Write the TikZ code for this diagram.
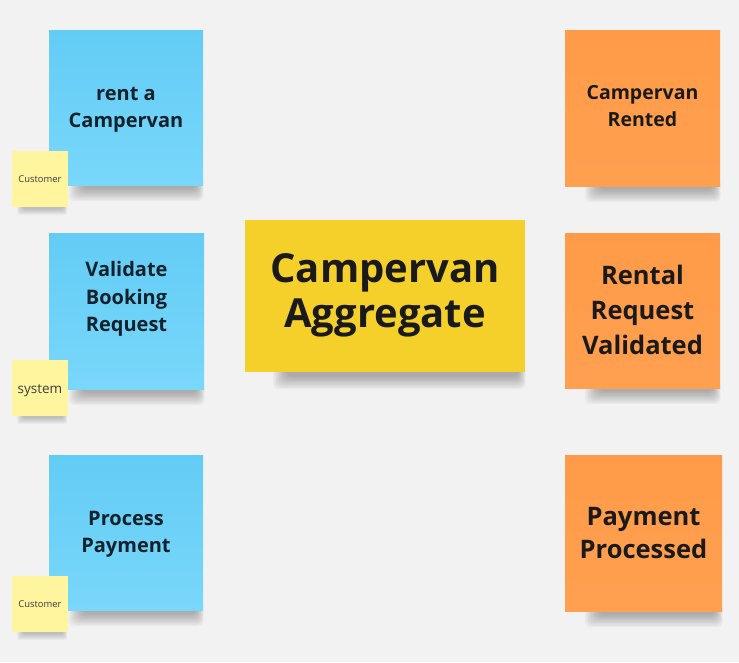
\documentclass[tikz,border=0pt]{standalone}
\usepackage{fontspec}
\setmainfont{Open Sans}
\definecolor{bgc}{HTML}{F2F2F2}
\definecolor{bluetop}{HTML}{63CCF5}
\definecolor{bluebot}{HTML}{79D7FA}
\definecolor{orgtop}{HTML}{FF9B48}
\definecolor{orgbot}{HTML}{FFA050}
\definecolor{aggc}{HTML}{F5D02B}
\definecolor{smallc}{HTML}{FFF59F}
\definecolor{txtdark}{HTML}{1A1A1A}
\definecolor{txtblue}{HTML}{12222C}
\pgfdeclarelayer{bglayer}
\pgfdeclarelayer{shadowlayer}
\pgfsetlayers{bglayer,shadowlayer,main}
\tikzset{
  notebase/.style={rectangle, inner sep=0pt, draw=none},
  bluenote/.style={notebase, top color=bluetop, bottom color=bluebot},
  orgnote/.style={notebase, top color=orgtop, bottom color=orgbot},
  aggnote/.style={notebase, fill=aggc},
  smallnote/.style={notebase, fill=smallc, minimum width=56pt, minimum height=56pt},
  shadowpiece/.style={fill=black, opacity=0.032, rounded corners=6pt},
  bluetxt/.style={align=center, text=txtblue, font=\fontsize{20}{27.3}\selectfont\bfseries},
  orgtxt/.style={align=center, text=txtdark, font=\fontsize{19.5}{27}\selectfont\bfseries},
  orgbig/.style={align=center, text=txtdark, font=\fontsize{25.5}{35}\selectfont\bfseries},
  orgbigb/.style={align=center, text=txtdark, font=\fontsize{25.5}{33}\selectfont\bfseries},
  aggtxt/.style={align=center, text=txtdark, font=\fontsize{40}{45}\selectfont\bfseries},
  smalltxt/.style={align=center, text=txtdark!85, font=\fontsize{9.4}{11}\selectfont},
  smallbig/.style={align=center, text=txtdark!85, font=\fontsize{13.5}{15}\selectfont},
}
% soft shadow under a note: #1 node name, #2 left inset, #3 depth below
\newcommand{\notesh}[3]{%
  \foreach \k in {0,...,9}{%
    \fill[shadowpiece]
      ([xshift={(#2+1.5*\k)*1pt}, yshift=8pt]#1.south west) rectangle
      ([xshift={(0.5-0.8*\k)*1pt}, yshift={(-#3+1.4*\k)*1pt}]#1.south east);
  }}
\newcommand{\smallsh}[1]{%
  \foreach \k in {0,...,6}{%
    \fill[shadowpiece, rounded corners=3pt]
      ([xshift={(5+1*\k)*1pt}, yshift=6pt]#1.south west) rectangle
      ([xshift={(-1-0.6*\k)*1pt}, yshift={(-8+1*\k)*1pt}]#1.south east);
  }}
\begin{document}
\begin{tikzpicture}[x=1pt, y=-1pt]
\begin{pgfonlayer}{bglayer}
\fill[bgc] (0,0) rectangle (739,662);
\end{pgfonlayer}
\useasboundingbox (0,0) rectangle (739,662);

% blue commands
\node[bluenote, minimum width=154pt, minimum height=155pt] (b1) at (126,107.5) {};
\node[bluetxt] (b1t) at ([yshift=-2pt]b1.center) {rent a\\Campervan};
\node[bluenote, minimum width=155pt, minimum height=156pt] (b2) at (126.5,311) {};
\node[bluetxt] (b2t) at ([yshift=12pt]b2.center) {Validate\\Booking\\Request};
\node[bluenote, minimum width=154pt, minimum height=155pt] (b3) at (126,532.5) {};
\node[bluetxt] (b3t) at ([yshift=-2pt]b3.center) {Process\\Payment};

% actors
\node[smallnote] (c1) at (40,179) {};
\node[smalltxt] (c1t) at (c1.center) {Customer};
\node[smallnote] (s2) at (40,388) {};
\node[smallbig] (s2t) at ([yshift=-3pt]s2.center) {system};
\node[smallnote] (c3) at (40,604) {};
\node[smalltxt] (c3t) at (c3.center) {Customer};

% aggregate
\node[aggnote, minimum width=280pt, minimum height=152pt] (agg) at (385,296) {};
\node[aggtxt] (aggt) at ([yshift=1pt]agg.center) {Campervan\\Aggregate};

% events
\node[orgnote, minimum width=155pt, minimum height=156pt] (o1) at (642.5,108) {};
\node[orgtxt] (o1t) at ([yshift=1.5pt]o1.center) {Campervan\\Rented};
\node[orgnote, minimum width=155pt, minimum height=155pt] (o2) at (642.5,310.5) {};
\node[orgbig] (o2t) at ([yshift=1pt]o2.center) {Rental\\Request\\Validated};
\node[orgnote, minimum width=157pt, minimum height=156pt] (o3) at (643.5,533) {};
\node[orgbigb] (o3t) at ([yshift=-0.5pt]o3.center) {Payment\\Processed};

% shadows
\begin{pgfonlayer}{shadowlayer}
\notesh{b1}{20}{16}
\notesh{b2}{20}{16}
\notesh{b3}{20}{16}
\notesh{agg}{28}{17}
\notesh{o1}{20}{16}
\notesh{o2}{20}{16}
\notesh{o3}{20}{16}
\smallsh{c1}
\smallsh{s2}
\smallsh{c3}
\end{pgfonlayer}
\end{tikzpicture}
\end{document}
